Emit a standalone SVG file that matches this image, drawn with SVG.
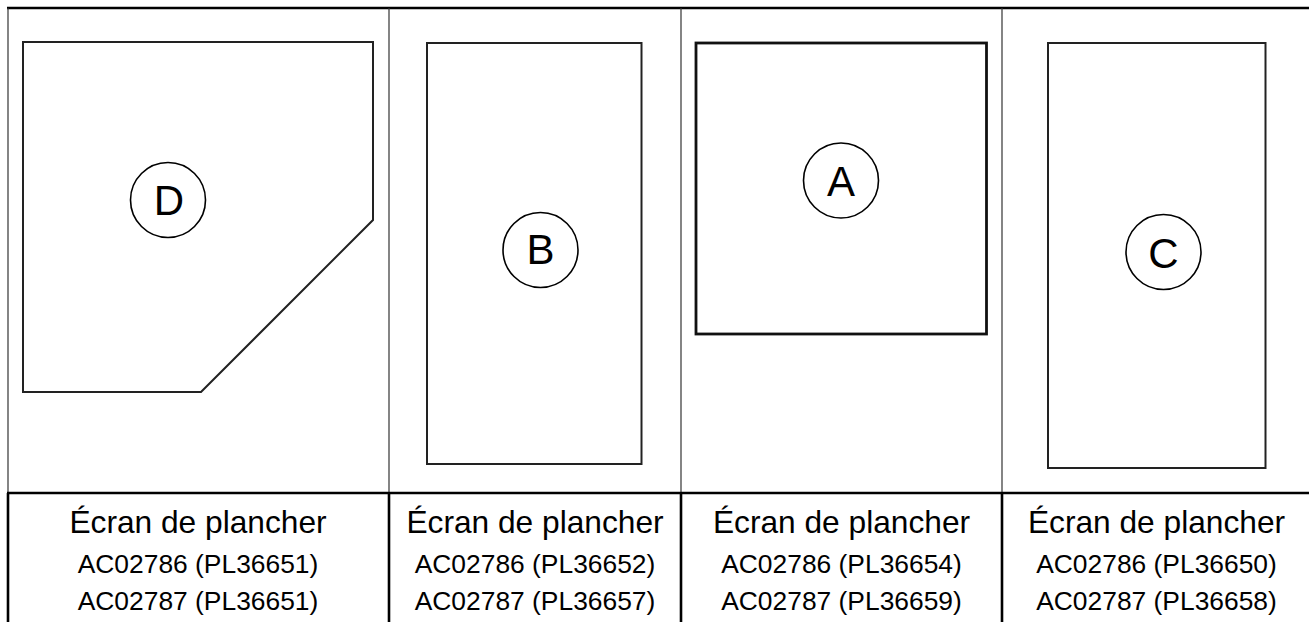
<svg xmlns="http://www.w3.org/2000/svg" width="1309" height="622" viewBox="0 0 1309 622">
<style>
.grid{stroke:#000;fill:none}
.thin{stroke:#333;stroke-width:1.2}
.thick{stroke:#000;stroke-width:2.6}
.shape{fill:#fff;stroke:#222;stroke-width:2}
.circ{fill:#fff;stroke:#000;stroke-width:1.6}
.lbl{font-family:"Liberation Sans",Arial,sans-serif;font-size:42px;text-anchor:middle;fill:#000}
.t1{font-family:"Liberation Sans",Arial,sans-serif;font-size:31.7px;text-anchor:middle;fill:#000}
.t2{font-family:"Liberation Sans",Arial,sans-serif;font-size:26.4px;text-anchor:middle;fill:#000}
</style>
<rect x="0" y="0" width="1309" height="622" fill="#fff"/>
<g id="grid">
<line class="thick" x1="7" y1="8" x2="1309" y2="8"/>
<line class="thin" x1="8" y1="8" x2="8" y2="493"/>
<line class="thin" x1="389" y1="8" x2="389" y2="493"/>
<line class="thin" x1="681" y1="8" x2="681" y2="493"/>
<line class="thin" x1="1002" y1="8" x2="1002" y2="493"/>
<line class="thick" x1="7" y1="493" x2="1309" y2="493"/>
<line class="thick" x1="8" y1="493" x2="8" y2="622"/>
<line class="thick" x1="389" y1="493" x2="389" y2="622"/>
<line class="thick" x1="681" y1="493" x2="681" y2="622"/>
<line class="thick" x1="1002" y1="493" x2="1002" y2="622"/>
</g>
<g id="nodeD">
<polygon class="shape" points="23,42 373,42 373,220 201,392 23,392"/>
<circle class="circ" cx="168" cy="200" r="37.5"/>
<text class="lbl" x="169" y="215">D</text>
<text class="t1" x="198" y="533">Écran de plancher</text>
<text class="t2" x="198" y="573">AC02786 (PL36651)</text>
<text class="t2" x="198" y="610">AC02787 (PL36651)</text>
</g>
<g id="nodeB">
<rect class="shape" x="427" y="43" width="214.5" height="421"/>
<circle class="circ" cx="540.5" cy="250" r="37.5"/>
<text class="lbl" x="540.5" y="264">B</text>
<text class="t1" x="535" y="533">Écran de plancher</text>
<text class="t2" x="535" y="573">AC02786 (PL36652)</text>
<text class="t2" x="535" y="610">AC02787 (PL36657)</text>
</g>
<g id="nodeA">
<rect class="shape" x="696" y="43" width="290.5" height="291" style="stroke-width:2.8;stroke:#111"/>
<circle class="circ" cx="841" cy="180.5" r="37.5"/>
<text class="lbl" x="841" y="196">A</text>
<text class="t1" x="841.5" y="533">Écran de plancher</text>
<text class="t2" x="841.5" y="573">AC02786 (PL36654)</text>
<text class="t2" x="841.5" y="610">AC02787 (PL36659)</text>
</g>
<g id="nodeC">
<rect class="shape" x="1048" y="43" width="217.5" height="425"/>
<circle class="circ" cx="1163.5" cy="252" r="37.5"/>
<text class="lbl" x="1163.5" y="268">C</text>
<text class="t1" x="1156.5" y="533">Écran de plancher</text>
<text class="t2" x="1156.5" y="573">AC02786 (PL36650)</text>
<text class="t2" x="1156.5" y="610">AC02787 (PL36658)</text>
</g>
</svg>
